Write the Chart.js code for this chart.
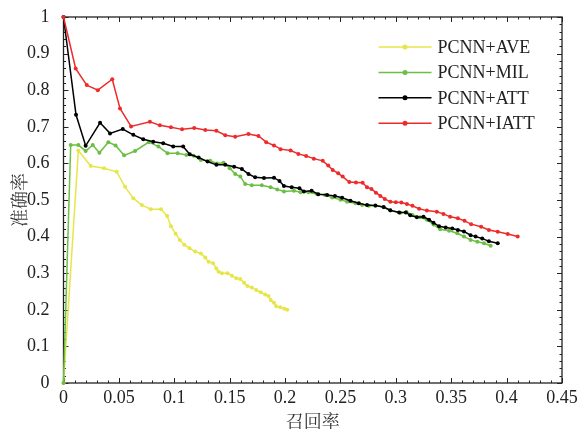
<!DOCTYPE html>
<html><head><meta charset="utf-8">
<script src="https://cdn.jsdelivr.net/npm/chart.js@4.4.0/dist/chart.umd.min.js"></script>
<style>html,body{margin:0;padding:0;background:#fff;overflow:hidden}</style>
</head><body>
<canvas id="c" width="579" height="429" style="width:579px;height:429px"></canvas>
<script>
const seriesNames = ['PCNN+AVE', 'PCNN+MIL', 'PCNN+ATT', 'PCNN+IATT'];
const xTickLabels = ['0', '0.05', '0.1', '0.15', '0.2', '0.25', '0.3', '0.35', '0.4', '0.45'];
const yTickLabels = ['0', '0.1', '0.2', '0.3', '0.4', '0.5', '0.6', '0.7', '0.8', '0.9', '1'];
const xTitle = '召回率';
const yTitle = '准确率';

const aveRecall = [0, 0.0134, 0.0246, 0.0366, 0.048, 0.0556, 0.063, 0.0707, 0.0788, 0.088, 0.0936, 0.097, 0.1012, 0.105, 0.109, 0.1138, 0.1189, 0.124, 0.128, 0.131, 0.135, 0.138, 0.140, 0.143, 0.148, 0.152, 0.156, 0.1596, 0.163, 0.166, 0.170, 0.174, 0.178, 0.182, 0.185, 0.187, 0.190, 0.192, 0.1957, 0.1994, 0.202];
const avePrecision = [0, 0.635, 0.593, 0.587, 0.577, 0.536, 0.505, 0.486, 0.475, 0.475, 0.456, 0.428, 0.408, 0.391, 0.378, 0.368, 0.359, 0.354, 0.343, 0.331, 0.327, 0.313, 0.304, 0.300, 0.300, 0.293, 0.286, 0.284, 0.274, 0.265, 0.261, 0.254, 0.248, 0.242, 0.238, 0.227, 0.219, 0.210, 0.207, 0.203, 0.200];

const milRecall = [0, 0.0065, 0.0134, 0.020, 0.0264, 0.0324, 0.0405, 0.047, 0.0547, 0.0646, 0.077, 0.0857, 0.0939, 0.103, 0.111, 0.1175, 0.124, 0.1325, 0.1385, 0.1445, 0.150, 0.155, 0.1596, 0.164, 0.170, 0.179, 0.187, 0.193, 0.199, 0.208, 0.214, 0.221, 0.229, 0.236, 0.2425, 0.25, 0.256, 0.2636, 0.2696, 0.2756, 0.2816, 0.289, 0.295, 0.304, 0.3097, 0.315, 0.322, 0.328, 0.334, 0.340, 0.348, 0.3555, 0.3615, 0.3675, 0.3736, 0.3796, 0.3856];
const milPrecision = [0, 0.650, 0.650, 0.634, 0.650, 0.629, 0.658, 0.649, 0.622, 0.634, 0.658, 0.646, 0.628, 0.628, 0.623, 0.621, 0.609, 0.607, 0.600, 0.602, 0.587, 0.571, 0.564, 0.544, 0.540, 0.540, 0.535, 0.529, 0.523, 0.525, 0.521, 0.521, 0.516, 0.514, 0.507, 0.501, 0.495, 0.491, 0.486, 0.484, 0.484, 0.480, 0.471, 0.465, 0.467, 0.459, 0.453, 0.446, 0.433, 0.420, 0.416, 0.409, 0.400, 0.391, 0.386, 0.382, 0.375];

const attRecall = [0, 0.0113, 0.020, 0.033, 0.042, 0.0535, 0.063, 0.072, 0.081, 0.090, 0.099, 0.108, 0.114, 0.122, 0.130, 0.138, 0.146, 0.154, 0.161, 0.167, 0.173, 0.181, 0.190, 0.195, 0.199, 0.206, 0.213, 0.217, 0.224, 0.230, 0.238, 0.245, 0.2515, 0.259, 0.2666, 0.274, 0.2816, 0.289, 0.295, 0.303, 0.309, 0.313, 0.319, 0.325, 0.330, 0.334, 0.339, 0.345, 0.351, 0.356, 0.3615, 0.3675, 0.372, 0.378, 0.384, 0.392];
const attPrecision = [1, 0.733, 0.648, 0.711, 0.682, 0.694, 0.678, 0.666, 0.659, 0.655, 0.646, 0.646, 0.625, 0.616, 0.605, 0.596, 0.596, 0.591, 0.585, 0.571, 0.562, 0.560, 0.561, 0.552, 0.538, 0.535, 0.532, 0.523, 0.525, 0.516, 0.514, 0.511, 0.506, 0.498, 0.491, 0.486, 0.485, 0.481, 0.472, 0.466, 0.466, 0.458, 0.453, 0.454, 0.446, 0.438, 0.428, 0.425, 0.422, 0.418, 0.414, 0.404, 0.400, 0.395, 0.387, 0.382];

const iattRecall = [0, 0.011, 0.021, 0.031, 0.044, 0.051, 0.061, 0.078, 0.087, 0.097, 0.107, 0.118, 0.128, 0.138, 0.146, 0.155, 0.167, 0.176, 0.183, 0.190, 0.196, 0.205, 0.212, 0.219, 0.226, 0.234, 0.239, 0.243, 0.248, 0.252, 0.258, 0.264, 0.270, 0.274, 0.278, 0.282, 0.286, 0.290, 0.295, 0.300, 0.305, 0.310, 0.315, 0.321, 0.328, 0.337, 0.343, 0.349, 0.356, 0.362, 0.368, 0.377, 0.384, 0.392, 0.401, 0.410];
const iattPrecision = [1, 0.859, 0.814, 0.800, 0.830, 0.750, 0.701, 0.714, 0.704, 0.699, 0.693, 0.697, 0.691, 0.689, 0.677, 0.673, 0.680, 0.675, 0.658, 0.649, 0.639, 0.635, 0.626, 0.620, 0.613, 0.607, 0.594, 0.582, 0.573, 0.564, 0.549, 0.548, 0.547, 0.535, 0.530, 0.520, 0.511, 0.503, 0.495, 0.494, 0.493, 0.489, 0.484, 0.476, 0.471, 0.468, 0.462, 0.454, 0.450, 0.443, 0.434, 0.427, 0.418, 0.413, 0.407, 0.400];

const colors = ['#e6e64a', '#6cbf45', '#000000', '#ee2b2b'];
const serif = '"Liberation Serif", "Times New Roman", "Noto Serif CJK SC", "Noto Sans CJK SC", serif';

function pts(xs, ys) { return xs.map((v, i) => ({ x: v, y: ys[i] })); }
const seriesData = [pts(aveRecall, avePrecision), pts(milRecall, milPrecision), pts(attRecall, attPrecision), pts(iattRecall, iattPrecision)];

function mkDataset(i) {
  return {
    label: seriesNames[i],
    data: seriesData[i],
    borderColor: colors[i],
    backgroundColor: colors[i],
    borderWidth: 1.5,
    pointRadius: 2,
    pointBorderWidth: 0,
    pointHoverRadius: 2,
    tension: 0,
    clip: false,
    fill: false
  };
}
// first dataset is drawn on top in Chart.js: put IATT first
const datasets = [3, 2, 1, 0].map(mkDataset);

const framePlugin = {
  id: 'frame',
  beforeDatasetsDraw(chart) {
    const { ctx, chartArea: a, scales: { x, y } } = chart;
    ctx.save();
    ctx.strokeStyle = '#222';
    ctx.lineWidth = 1.3;
    ctx.strokeRect(a.left, a.top, a.right - a.left, a.bottom - a.top);
    ctx.lineWidth = 1;
    ctx.beginPath();
    for (let i = 0; i <= 45; i++) {
      const px = Math.round(x.getPixelForValue(i / 100)) + 0.5;
      const len = i % 5 === 0 ? 5 : 2.5;
      ctx.moveTo(px, a.bottom); ctx.lineTo(px, a.bottom - len);
      ctx.moveTo(px, a.top); ctx.lineTo(px, a.top + len);
    }
    for (let i = 0; i <= 50; i++) {
      const py = Math.round(y.getPixelForValue(i / 50)) + 0.5;
      const len = i % 5 === 0 ? 5 : 2.5;
      ctx.moveTo(a.left, py); ctx.lineTo(a.left + len, py);
      ctx.moveTo(a.right, py); ctx.lineTo(a.right - len, py);
    }
    ctx.stroke();
    ctx.restore();
  }
};

const legendPlugin = {
  id: 'myLegend',
  afterDraw(chart) {
    const { ctx, chartArea: a } = chart;
    const x0 = a.left + 315, x1 = a.left + 368, tx = a.left + 374;
    const y0 = a.top + 30, dy = 25.4;
    ctx.save();
    ctx.font = '18px ' + serif;
    ctx.textBaseline = 'middle';
    ctx.textAlign = 'left';
    for (let i = 0; i < 4; i++) {
      const yy = y0 + i * dy;
      ctx.strokeStyle = colors[i];
      ctx.lineWidth = 1.5;
      ctx.beginPath(); ctx.moveTo(x0, yy); ctx.lineTo(x1, yy); ctx.stroke();
      ctx.fillStyle = colors[i];
      ctx.beginPath(); ctx.arc((x0 + x1) / 2, yy, 2.5, 0, Math.PI * 2); ctx.fill();
      ctx.fillStyle = '#222';
      ctx.fillText(seriesNames[i], tx, yy + 1);
    }
    ctx.restore();
  }
};

new Chart(document.getElementById('c'), {
  type: 'line',
  data: { datasets },
  options: {
    responsive: false,
    animation: false,
    devicePixelRatio: 1,
    layout: { padding: { left: 0, top: 17, right: 17, bottom: 0 } },
    plugins: { legend: { display: false }, tooltip: { enabled: false } },
    scales: {
      x: {
        type: 'linear', min: 0, max: 0.45,
        grid: { display: false },
        border: { display: false },
        afterFit(s) { s.height = 46; },
        ticks: {
          stepSize: 0.05, padding: -4, maxRotation: 0, autoSkip: false,
          color: '#222', font: { family: serif, size: 18 },
          callback: (v, i) => xTickLabels[i]
        },
        title: { display: true, text: xTitle, color: '#333', font: { family: serif, size: 18 }, padding: { top: 0, bottom: -5 } }
      },
      y: {
        type: 'linear', min: 0, max: 1,
        grid: { display: false },
        border: { display: false },
        afterFit(s) { s.width = 63.5; },
        ticks: {
          stepSize: 0.1, padding: 6, autoSkip: false,
          color: '#222', font: { family: serif, size: 18 },
          callback: (v, i) => yTickLabels[i]
        },
        title: { display: true, text: yTitle, color: '#333', font: { family: serif, size: 18 }, padding: { top: 10, bottom: 0 } }
      }
    }
  },
  plugins: [framePlugin, legendPlugin]
});
</script>
</body></html>
